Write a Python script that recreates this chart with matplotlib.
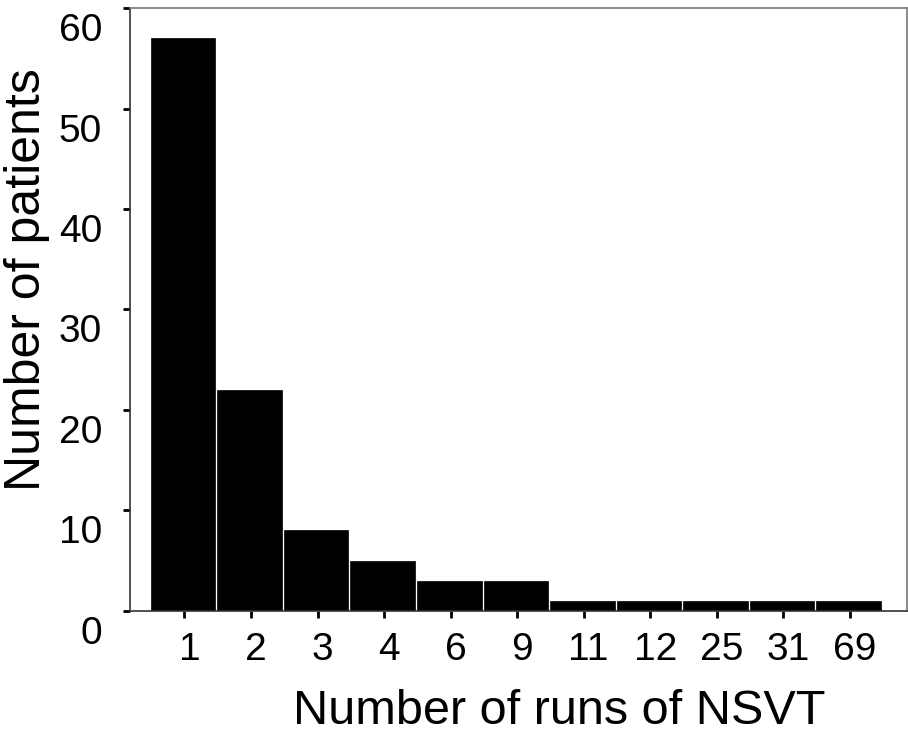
import numpy as np
import matplotlib.pyplot as plt
import matplotlib.transforms as mtransforms

plt.rcParams['font.family'] = ['Liberation Sans', 'DejaVu Sans']

runs = ['1', '2', '3', '4', '6', '9', '11', '12', '25', '31', '69']
patients = [57, 22, 8, 5, 3, 3, 1, 1, 1, 1, 1]

fig = plt.figure(figsize=(9.08, 7.43), dpi=100)
ax = fig.add_axes([0.143, 0.178, 0.856, 0.811])

x = np.arange(len(runs))
ax.bar(x, patients, width=0.97, color='black', edgecolor='black', linewidth=0.5)

ax.set_xlim(-0.8, len(runs) - 0.12)
ax.set_ylim(0, 60)
ax.set_yticks(range(0, 61, 10))
ax.set_xticks(x + 0.02)
ax.set_xticklabels(runs)

for s in ax.spines.values():
    s.set_color('#777777')
    s.set_linewidth(1.2)
ax.spines['left'].set_color('#333333')
ax.spines['bottom'].set_color('#333333')

ax.tick_params(axis='both', labelsize=28, length=5, width=2, direction='out', color='black')
ax.tick_params(axis='x', pad=10)
ax.tick_params(axis='y', pad=15)

# tick labels sit a little off their ticks in the original
down = mtransforms.ScaledTranslation(0, -19 / 100, fig.dpi_scale_trans)
for lab in ax.get_yticklabels():
    lab.set_transform(lab.get_transform() + down)
right = mtransforms.ScaledTranslation(5 / 100, 0, fig.dpi_scale_trans)
for lab in ax.get_xticklabels():
    lab.set_transform(lab.get_transform() + right)

ax.set_xlabel('Number of runs of NSVT', fontsize=35)
ax.xaxis.set_label_coords(0.553, -0.13)
ax.set_ylabel('Number of patients', fontsize=36)
ax.yaxis.set_label_coords(-0.103, 0.549)

fig.savefig('out.png', dpi=100)
